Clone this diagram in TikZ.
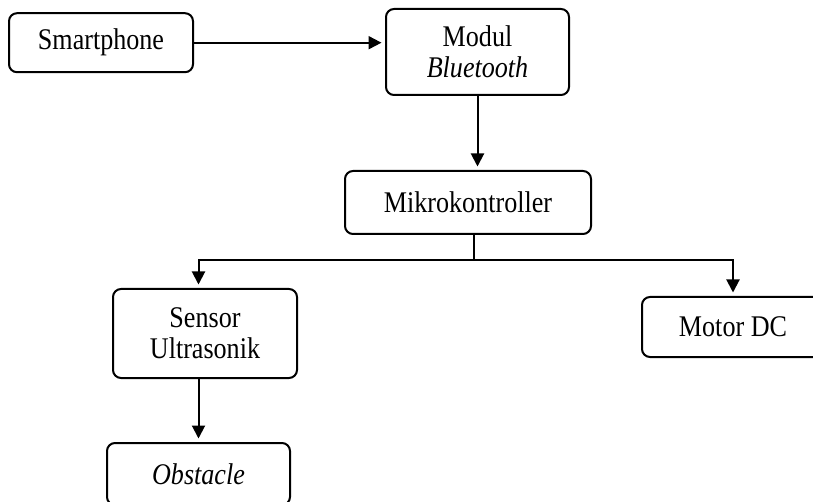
\documentclass[tikz,border=0pt]{standalone}
\usepackage{fontspec}
\setmainfont[FakeStretch=0.87]{Liberation Serif}
\usetikzlibrary{arrows.meta}
\begin{document}
\begin{tikzpicture}[x=1pt,y=-1pt,
  box/.style={draw, line width=2pt, rounded corners=8pt, inner sep=0pt, align=center,
    font=\fontsize{30}{31}\selectfont},
  conn/.style={line width=2pt},
  arr/.style={conn, shorten >=3.5pt, -{Triangle[length=13pt,width=13pt]}}]
\useasboundingbox (0,0) rectangle (813,502);
\node[box, minimum width=184pt, minimum height=59pt] (smart) at (101,42.7) {Smartphone};
\node[box, minimum width=183pt, minimum height=86pt] (modul) at (477.5,52) {Modul\\\textit{Bluetooth}};
\node[box, minimum width=246pt, minimum height=63pt] (mikro) at (468,202.5) {Mikrokontroller};
\node[box, minimum width=184pt, minimum height=89pt] (sensor) at (205,333.5) {Sensor\\Ultrasonik};
\node[box, minimum width=182pt, minimum height=60pt] (motor) at (733,327) {Motor DC};
\node[box, minimum width=183pt, minimum height=62pt] (obst) at (198.5,474) {\textit{Obstacle}};
\coordinate (split) at (474,260);
\draw[arr] (smart.east) -- (modul.west |- smart.east);
\draw[arr] (modul.south) -- (modul.south |- mikro.north);
\draw[conn] (mikro.south -| split) -- (split);
\draw[arr] (split) -| (sensor.north -| obst.north);
\draw[arr] (split) -| (motor.north);
\draw[arr] (sensor.south -| obst.north) -- (obst.north);
\end{tikzpicture}
\end{document}
